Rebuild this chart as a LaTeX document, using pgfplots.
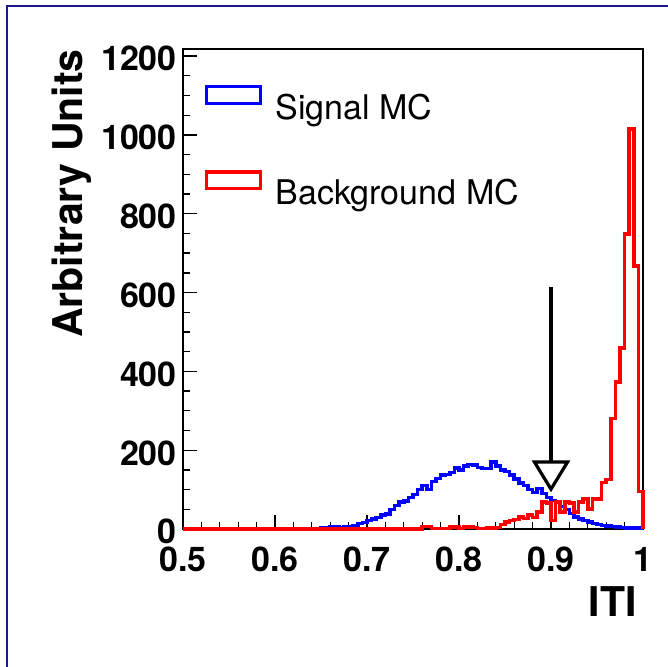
\documentclass[border=0pt]{standalone}
\usepackage{fontspec}
\setmainfont{TeX Gyre Heros}
\usepackage{pgfplots}
\pgfplotsset{compat=1.18}
\definecolor{framenavy}{rgb}{0.1,0.1,0.55}
\begin{document}
\begin{tikzpicture}
% page = 668x667 px, 1px = 0.75pt, axis box lower left at (183,529) px
\path[use as bounding box] (-137.25pt,-103.5pt) rectangle (363.75pt,396.75pt);
\draw[framenavy, line width=1.5pt] (-132pt,-103.5pt) -- (-132pt,392.25pt) -- (363.75pt,392.25pt);
\begin{axis}[
    scale only axis,
    width=345pt, height=360pt,
    xmin=0.5, xmax=1,
    ymin=0, ymax=1218,
    clip=false,
    axis line style={line width=2.2pt},
    xtick={0.5,0.6,0.7,0.8,0.9,1},
    xticklabels={0.5,0.6,0.7,0.8,0.9,1},
    ytick={0,200,400,600,800,1000,1200},
    yticklabels={0,200,400,600,800,1000,1200},
    minor x tick num=4,
    minor y tick num=3,
    tick align=inside,
    tick pos=left,
    major tick length=10.5pt,
    minor tick length=5.25pt,
    every tick/.style={black, line width=1pt},
    ticklabel style={font=\fontsize{25.5}{30}\selectfont\bfseries, inner sep=0pt},
    xticklabel style={yshift=-13.5pt},
    yticklabel style={xshift=-4.5pt, yshift=-2pt},
    xlabel={ITI},
    ylabel={Arbitrary Units},
    label style={font=\fontsize{30.75}{36}\selectfont\bfseries, inner sep=0pt},
    xlabel style={at={(rel axis cs:1,0)}, anchor=north east, xshift=-4.5pt, yshift=-42.75pt},
    ylabel style={at={(rel axis cs:-0.2848,1)}, anchor=north east},
    legend cell align=left,
    legend image code/.code={\draw[#1, line width=2.4pt, line join=miter] (1.2pt,3.0pt) rectangle (41.6pt,15.4pt);},
    legend style={draw=none, fill=none, inner sep=0pt,
        at={(rel axis cs:0.0478,0.925)}, anchor=north west,
        font=\fontsize{25.5}{30}\selectfont,
        row sep=37pt, nodes={inner sep=0pt},
        /tikz/every odd column/.append style={column sep=10pt}},
]

% Signal MC
\addplot[blue, line width=2.6pt, line join=miter, const plot mark left, mark=none]
    coordinates {
    (0.5,0)(0.65,3)(0.655,2)(0.66,5)(0.665,5)(0.67,3)(0.675,5)(0.68,5)(0.685,9)
    (0.69,14)(0.695,17)(0.70,22)(0.705,25)(0.71,29)(0.715,36)(0.72,38)(0.725,50)
    (0.73,59)(0.735,69)(0.74,71)(0.745,80)(0.75,88)(0.755,100)(0.76,110)(0.765,100)
    (0.77,120)(0.775,128)(0.78,137)(0.785,138)(0.79,143)(0.795,155)(0.80,150)
    (0.805,160)(0.81,163)(0.815,162)(0.82,156)(0.825,154)(0.83,154)(0.835,170)
    (0.84,160)(0.845,150)(0.85,146)(0.855,137)(0.86,127)(0.865,117)(0.87,110)
    (0.875,100)(0.88,93)(0.885,103)(0.89,90)(0.895,80)(0.90,72)(0.905,68)(0.91,57)
    (0.915,50)(0.92,40)(0.925,30)(0.93,25)(0.935,22)(0.94,18)(0.945,14)(0.95,11)
    (0.955,9)(0.96,8)(0.965,6)(0.97,5)(0.975,4)(0.98,3)(0.985,3)(0.99,2)(0.995,2)
    (1,2)(1,0)
    };
\addlegendentry{Signal MC}

% Background MC
\addplot[red, line width=2.6pt, line join=miter, const plot mark left, mark=none]
    coordinates {
    (0.5,0)(0.76,6)(0.765,6)(0.77,1)(0.79,5)(0.795,5)(0.80,1)(0.805,5)(0.81,5)
    (0.815,4)(0.82,1)(0.83,2)(0.835,3)(0.84,4)(0.845,12)(0.85,18)(0.855,22)
    (0.86,24)(0.865,31)(0.87,26)(0.875,35)(0.88,29)(0.885,43)(0.89,68)(0.895,66)
    (0.90,22)(0.905,68)(0.91,43)(0.915,68)(0.92,66)(0.925,43)(0.93,68)(0.935,76)
    (0.94,51)(0.945,76)(0.95,76)(0.955,118)(0.96,126)(0.965,281)(0.97,373)
    (0.975,459)(0.98,748)(0.985,1015)(0.99,667)(0.995,95)(1,95)(1,0)
    };
\addlegendentry{Background MC}

% cut arrow at 0.9
\draw[black, line width=2.4pt] (axis cs:0.9,614) -- (axis cs:0.9,170);
\draw[black, line width=2.4pt, line join=miter] (axis cs:0.882,170) -- (axis cs:0.918,170) -- (axis cs:0.9,101) -- cycle;
\end{axis}
\end{tikzpicture}
\end{document}
